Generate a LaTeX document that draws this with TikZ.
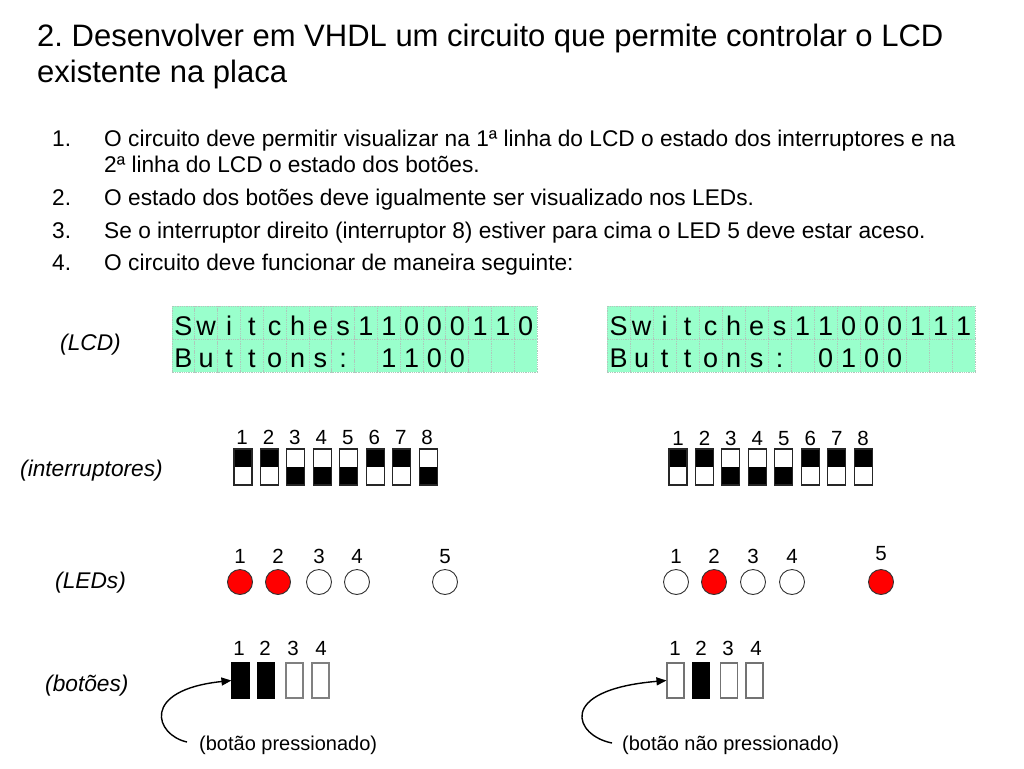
\documentclass[tikz,border=0pt]{standalone}
\usepackage{fontspec}
\setmainfont{Liberation Sans}
\usetikzlibrary{arrows.meta,calc}
\definecolor{mint}{RGB}{153,255,204}
\definecolor{lcdgrid}{RGB}{175,200,188}
\definecolor{ledred}{RGB}{255,0,0}
\frenchspacing
\newcommand\lcdpanel[5]{%
  \foreach \c [count=\i] in {#4}{%
    \draw[lcdcell] ({#1+(\i-1)*#2},306) rectangle ++(#2,33);
    \node[lcdch] (#3a\i) at ({#1+(\i-0.5)*#2},335) {\c};
  }
  \foreach \c [count=\i] in {#5}{%
    \draw[lcdcell] ({#1+(\i-1)*#2},339) rectangle ++(#2,33);
    \node[lcdch] (#3b\i) at ({#1+(\i-0.5)*#2},367) {\c};
  }
}
\begin{document}
\begin{tikzpicture}[x=1pt,y=-1pt,
  titlet/.style={anchor=base west,inner sep=0,font=\fontsize{31}{31}\selectfont},
  bodyt/.style={anchor=base west,inner sep=0,font=\fontsize{22.7}{26}\selectfont},
  lbl/.style={anchor=west,inner sep=0,font=\fontsize{22.7}{26}\selectfont\itshape},
  note/.style={anchor=west,inner sep=0,font=\fontsize{20}{24}\selectfont},
  num/.style={anchor=base,inner sep=0,font=\fontsize{20.5}{23}\selectfont},
  lcdcell/.style={fill=mint,draw=lcdgrid,densely dotted,line width=0.8pt},
  lcdch/.style={anchor=base,inner sep=0,font=\fontsize{27}{29}\selectfont},
  sw/.style={draw=black!85,line width=1.1pt,minimum width=18pt,minimum height=36pt,inner sep=0},
  led/.style={circle,draw=black!80,line width=0.9pt,minimum size=25pt,inner sep=0},
  btn/.style={line width=1.1pt,minimum width=17pt,minimum height=35pt,inner sep=0},
  pointer/.style={line width=1.4pt,-{Triangle[length=10pt,width=8pt]}}
]
\useasboundingbox[fill=white] (0,0) rectangle (1024,768);

% title
\node[titlet] (title1) at (37,46) {2. Desenvolver em VHDL um circuito que permite controlar o LCD};
\node[titlet] (title2) at (37,82) {existente na placa};

% list
\node[bodyt] (n1) at (52,146) {1.};
\node[bodyt] (t1a) at (104,146) {O circuito deve permitir visualizar na 1ª linha do LCD o estado dos interruptores e na};
\node[bodyt] (t1b) at (104,172) {2ª linha do LCD o estado dos botões.};
\node[bodyt] (n2) at (52,205) {2.};
\node[bodyt] (t2) at (104,205) {O estado dos botões deve igualmente ser visualizado nos LEDs.};
\node[bodyt] (n3) at (52,238) {3.};
\node[bodyt] (t3) at (104,238) {Se o interruptor direito (interruptor 8) estiver para cima o LED 5 deve estar aceso.};
\node[bodyt] (n4) at (52,270) {4.};
\node[bodyt] (t4) at (104,270) {O circuito deve funcionar de maneira seguinte:};

% row labels
\node[lbl] (lLCD) at (60,345) {(LCD)};
\node[lbl] (lint) at (20,471) {(interruptores)};
\node[lbl] (lled) at (55,583) {(LEDs)};
\node[lbl] (lbot) at (45,686) {(botões)};

% LCD panels
\lcdpanel{172}{22.82}{L}{S,w,i,t,c,h,e,s,1,1,0,0,0,1,1,0}{B,u,t,t,o,n,s,:,{},1,1,0,0,{},{},{}}
\lcdpanel{607}{23}{R}{S,w,i,t,c,h,e,s,1,1,0,0,0,1,1,1}{B,u,t,t,o,n,s,:,{},0,1,0,0,{},{},{}}

% switches
\foreach \o [count=\i] in {0,0,18,18,18,0,0,18}{%
  \fill[black] ({243+(\i-1)*26.45-9},{449+\o}) rectangle ++(18,18);
  \node[sw] (swL\i) at ({243+(\i-1)*26.45},467) {};
  \node[num] (swLn\i) at ({242+(\i-1)*26.45},444) {\i};
}
\foreach \o [count=\i] in {0,0,18,18,18,0,0,0}{%
  \fill[black] ({678+(\i-1)*26.45-9},{449+\o}) rectangle ++(18,18);
  \node[sw] (swR\i) at ({678+(\i-1)*26.45},467) {};
  \node[num] (swRn\i) at ({678+(\i-1)*26.45},445) {\i};
}

% LEDs
\foreach \x/\n/\f in {240/1/ledred,278/2/ledred,319/3/white,357/4/white,445/5/white}{%
  \node[led,fill=\f] (ledL\n) at (\x,582) {};
  \node[num] (ledLn\n) at (\x,563) {\n};
}
\foreach \x/\n/\f/\y in {676/1/white/563,714/2/ledred/563,753/3/white/563,792/4/white/563,881/5/ledred/560}{%
  \node[led,fill=\f] (ledR\n) at (\x,582) {};
  \node[num] (ledRn\n) at (\x,\y) {\n};
}

% buttons
\foreach \x/\nx/\n/\f/\d in {240.5/239/1/black/black,266/265/2/black/black,294.5/293/3/white/black!50,320.5/321/4/white/black!50}{%
  \node[btn,fill=\f,draw=\d] (bL\n) at (\x,680.5) {};
  \node[num] (bLn\n) at (\nx,655.5) {\n};
}
\foreach \x/\nx/\n/\f/\d in {675.5/675/1/white/black!55,701/701/2/black/black,729/728/3/white/black!55,754.5/756/4/white/black!55}{%
  \node[btn,fill=\f,draw=\d] (bR\n) at (\x,680.5) {};
  \node[num] (bRn\n) at (\nx,655.5) {\n};
}

% notes and pointers
\node[note] (noteL) at (199,745) {(botão pressionado)};
\node[note] (noteR) at (622,745) {(botão não pressionado)};
\coordinate (aL) at (187,742);
\coordinate (aR) at (612,743);
\draw[pointer] (aL) .. controls (155,735) and (140,690) .. (bL1.west);
\draw[pointer] (aR) .. controls (575,736) and (555,690) .. (bR1.west);
\end{tikzpicture}
\end{document}
